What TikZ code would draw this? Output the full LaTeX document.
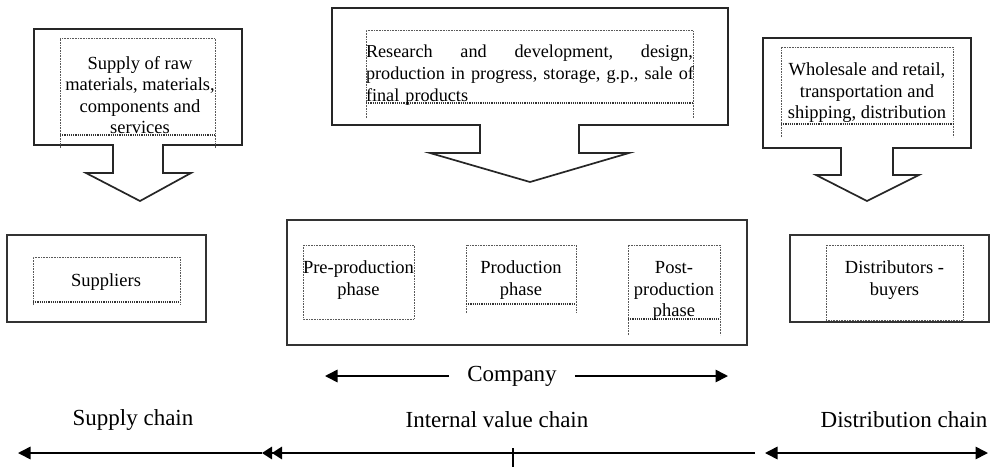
\documentclass[tikz,border=0pt]{standalone}
\usepackage{fontspec}
\setmainfont{Liberation Serif}
\usetikzlibrary{arrows.meta, positioning}

\begin{document}
\begin{tikzpicture}[x=1pt, y=-1pt,
    blockarrow/.style={draw=black!85, line width=1.7pt, line join=miter, fill=white},
    outerbox/.style={draw=black!80, line width=1.4pt, minimum width=199pt, minimum height=87pt},
    textframe/.style={draw=black!65, densely dotted, line width=0.6pt},
    frameline/.style={draw=black!80, densely dotted, line width=1.2pt},
    boxtext/.style={font=\fontsize{18.5}{21.5}\selectfont, align=center, inner sep=0pt},
    chainlabel/.style={font=\fontsize{23}{26}\selectfont, inner sep=0pt},
    chainarrow/.style={draw=black, line width=1.6pt},
    head/.tip={Triangle[length=12.5pt, width=12.5pt]},
    doublehead/.tip={Triangle[length=10pt, width=12.5pt] Triangle[length=10pt, width=12.5pt]}]
    \useasboundingbox (0,0) rectangle (996,467);

    % Block arrows (callouts)
    \draw[blockarrow] (34,29) -- (242,29) -- (242,145) -- (163,145) -- (163,173) -- (191,173) -- (140,201) -- (86,173) -- (113,173) -- (113,145) -- (34,145) -- cycle;
    \draw[blockarrow] (332,8) -- (728,8) -- (728,125) -- (579,125) -- (579,153) -- (629,153) -- (530,182) -- (430,153) -- (480,153) -- (480,125) -- (332,125) -- cycle;
    \draw[blockarrow] (763,38) -- (971,38) -- (971,148) -- (893,148) -- (893,175) -- (919,175) -- (867,201) -- (816,175) -- (841,175) -- (841,148) -- (763,148) -- cycle;

    % Text frames in the callouts
    \draw[textframe] (60,148) -- (60,38) -- (215,38) -- (215,148);
    \draw[frameline] (60,135) -- (215,135);
    \draw[textframe] (366,118) -- (366,30) -- (693,30) -- (693,118);
    \draw[frameline] (366,103) -- (693,103);
    \draw[textframe] (781,137) -- (781,47) -- (953,47) -- (953,137);
    \draw[frameline] (781,124) -- (953,124);

    \node (raw) [boxtext] at (140,95) {Supply of raw\\ materials, materials,\\ components and\\ services};
    \node (rnd) [boxtext, font=\fontsize{18.2}{22}\selectfont, text width=327pt, align=left] at (529.5,75) {Research \hfill and \hfill development, \hfill design,\\ \mbox{production in progress, storage, g.p., sale of}\\ final products};
    \node (trade) [boxtext] at (867,93) {Wholesale and retail,\\ transportation and\\ shipping, distribution};

    % Outer boxes
    \node (suppbox) [outerbox] at (106.5,278.5) {};
    \node (compbox) [outerbox, minimum width=460pt, minimum height=125pt] at (517,282.5) {};
    \node (distbox) [outerbox] at (889.5,278.5) {};

    % Inner frames
    \draw[textframe] (33,305) -- (33,257) -- (180,257) -- (180,305);
    \draw[frameline] (33,302) -- (180,302);
    \draw[textframe] (303,245) rectangle (414,319);
    \draw[textframe] (466,313) -- (466,245) -- (576,245) -- (576,313);
    \draw[frameline] (466,304) -- (576,304);
    \draw[textframe] (628,335) -- (628,245) -- (720,245) -- (720,335);
    \draw[frameline] (628,319) -- (720,319);
    \draw[textframe] (826,245) rectangle (963,320);

    \node (supp) [boxtext] at (106,282) {Suppliers};
    \node (pre) [boxtext] at (358.5,280) {Pre-production\\ phase};
    \node (prod) [boxtext] at (521,280) {Production\\ phase};
    \node (post) [boxtext] at (674,291) {Post-\\ production\\ phase};
    \node (buyers) [boxtext] at (894.5,280) {Distributors -\\ buyers};

    % Company arrow
    \node (company) [chainlabel, inner xsep=18pt] at (512,376) {Company};
    \coordinate (compL) at (325,376);
    \coordinate (compR) at (728,376);
    \draw[chainarrow, -{head}] (company.west) -- (compL);
    \draw[chainarrow, -{head}] (company.east) -- (compR);

    % Chain labels
    \node (supply) [chainlabel] at (133,420) {Supply chain};
    \node (internal) [chainlabel] at (497,420) {Internal value chain};
    \node (distchain) [chainlabel] at (904,420) {Distribution chain};

    % Bottom line
    \coordinate (s1) at (18,453);
    \coordinate (s2) at (262,453);
    \coordinate (i2) at (755,453);
    \coordinate (d1) at (765,453);
    \coordinate (d2) at (988,453);
    \coordinate (tk1) at (513,448);
    \coordinate (tk2) at (513,467);
    \draw[chainarrow, {head}-] (s1) -- (s2);
    \draw[chainarrow, -{doublehead}] (i2) -- (s2);
    \draw[chainarrow, {head}-{head}] (d1) -- (d2);
    \draw[line width=1.6pt] (tk1) -- (tk2);
\end{tikzpicture}
\end{document}
